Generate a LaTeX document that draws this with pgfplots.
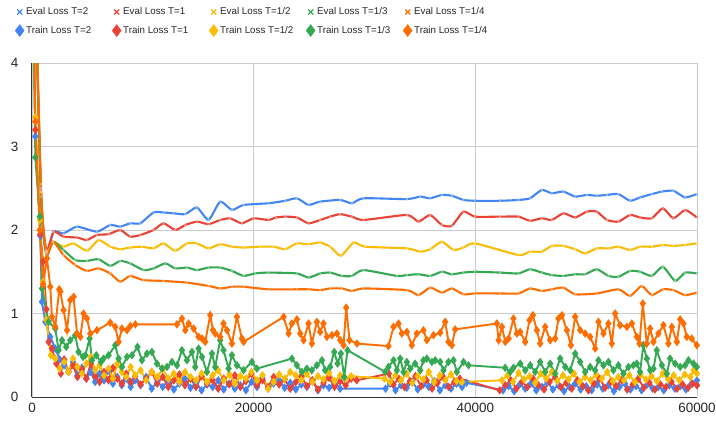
\documentclass[border=0pt]{standalone}
\usepackage{pgfplots}
\pgfplotsset{compat=1.18}
\usepackage{fontspec}
\setmainfont{Liberation Sans}
\definecolor{cblue}{HTML}{4285F4}
\definecolor{cred}{HTML}{EA4335}
\definecolor{cyellow}{HTML}{FBBC04}
\definecolor{cgreen}{HTML}{34A853}
\definecolor{corange}{HTML}{FF6D01}
\pgfplotsset{
 ev/.style={draw=#1, line width=2.1bp, smooth, tension=0.35, mark=x, mark size=1.4bp, mark options={solid, draw=#1!55!white, line width=0.6bp}},
 tr/.style={draw=#1, line width=1.9bp, mark=diamond*, mark size=2.7bp, mark options={solid, fill=#1, draw=#1}},
 le/.style={only marks, mark=x, mark size=3.6bp, mark options={draw=#1, line width=1.2bp}},
 lt/.style={only marks, mark=diamond*, mark size=6bp, mark options={draw=#1, fill=#1}},
}
\begin{document}
\begin{tikzpicture}
\useasboundingbox (-32bp,-26bp) rectangle (684bp,397bp);
\begin{axis}[
  at={(0bp,0bp)}, anchor=south west,
  scale only axis, width=665bp, height=334bp,
  xmin=0, xmax=60000, ymin=0, ymax=4,
  xtick={0,20000,40000,60000}, ytick={0,1,2,3,4},
  scaled x ticks=false,
  /pgf/number format/1000 sep={},
  /pgf/number format/assume math mode=true,
  tick label style={font=\fontsize{13.5}{15}\selectfont, text=black!85},
  yticklabel style={xshift=-10bp},
  xticklabel style={yshift=-3bp},
  major tick length=0pt,
  axis x line*=bottom, axis y line*=left,
  axis line style={draw=black!80, line width=1bp, -},
  grid=major, grid style={draw=black!20, line width=0.8bp},
  legend columns=5,
  legend cell align=left,
  legend style={at={(axis description cs:-0.03,1.178)}, anchor=north west, draw=none, fill=none,
    font=\fontsize{9.8}{11}\selectfont, text=black!85, row sep=6bp,
    /tikz/every even column/.append style={column sep=4bp}},
]
% ---------- Eval ----------
\addplot[ev=cblue, forget plot] coordinates {
(0,6.5)(800,2.5)(1300,1.74)(1950,1.98)(2850,1.96)(4060,2.04)(5860,1.98)(7060,2.06)(7960,2.04)(8860,2.08)(9770,2.08)(10970,2.21)(11870,2.21)(12770,2.20)(13830,2.19)(14880,2.27)(15930,2.12)(16980,2.34)(18040,2.24)(19090,2.30)(21340,2.32)(22850,2.35)(23900,2.38)(24950,2.30)(26000,2.34)(27810,2.36)(28860,2.32)(29910,2.38)(33830,2.37)(35030,2.40)(35930,2.38)(36980,2.42)(37880,2.41)(38930,2.36)(39970,2.35)(42230,2.35)(43890,2.36)(44940,2.38)(46000,2.48)(46900,2.44)(47950,2.46)(49010,2.40)(50060,2.42)(50960,2.41)(51870,2.42)(52910,2.43)(53960,2.35)(54860,2.39)(55920,2.43)(56830,2.46)(57870,2.47)(58930,2.39)(59980,2.43)};
\addplot[ev=cred, forget plot] coordinates {
(0,6.5)(800,2.47)(1300,1.76)(1950,1.98)(2850,1.92)(4060,1.91)(4960,1.88)(5860,1.94)(6910,1.95)(7960,2.00)(8860,1.92)(9770,1.94)(10970,2.00)(11870,2.08)(12930,2.00)(13830,2.06)(14880,2.10)(15930,2.07)(16980,2.12)(17880,2.14)(18930,2.08)(19990,2.14)(21340,2.12)(22000,2.15)(22850,2.16)(23900,2.15)(24950,2.08)(26000,2.12)(26900,2.16)(27810,2.19)(28860,2.16)(29910,2.12)(33830,2.18)(34870,2.10)(35930,2.18)(36980,2.06)(37880,2.05)(38930,2.22)(39970,2.16)(42230,2.16)(43890,2.16)(44940,2.11)(46000,2.14)(46900,2.12)(47950,2.20)(49010,2.15)(50060,2.22)(50960,2.22)(51870,2.12)(52910,2.10)(53960,2.18)(54860,2.15)(55920,2.14)(56920,2.26)(57870,2.14)(58930,2.24)(59980,2.15)};
\addplot[ev=cyellow, forget plot] coordinates {
(0,6.5)(800,2.45)(1300,1.74)(1900,1.86)(2850,1.80)(3750,1.84)(4960,1.75)(6010,1.88)(7060,1.80)(7960,1.77)(8860,1.79)(9920,1.80)(10970,1.78)(11870,1.84)(12930,1.75)(13980,1.84)(14880,1.84)(15930,1.78)(16980,1.83)(18040,1.80)(19090,1.79)(20590,1.80)(21800,1.80)(22850,1.77)(23900,1.84)(24950,1.83)(26000,1.85)(26900,1.80)(27870,1.69)(29010,1.85)(30060,1.80)(33830,1.78)(35030,1.74)(35930,1.77)(36980,1.86)(38030,1.76)(38930,1.79)(39970,1.84)(43890,1.70)(44940,1.74)(46000,1.74)(46900,1.81)(47950,1.81)(49010,1.77)(49910,1.72)(50960,1.78)(52010,1.78)(52910,1.80)(53960,1.76)(54860,1.80)(55920,1.80)(56920,1.82)(57870,1.81)(58930,1.82)(59980,1.84)};
\addplot[ev=cgreen, forget plot] coordinates {
(0,6.5)(800,2.4)(1300,1.70)(1900,1.86)(2850,1.76)(3900,1.64)(4960,1.63)(6010,1.65)(7060,1.57)(7960,1.63)(8860,1.60)(10070,1.52)(10970,1.54)(12030,1.60)(12930,1.54)(13980,1.55)(14880,1.52)(15930,1.55)(16980,1.55)(18040,1.51)(19090,1.45)(20140,1.48)(21340,1.49)(23900,1.48)(24950,1.43)(26000,1.48)(26900,1.49)(27960,1.45)(28860,1.45)(29910,1.52)(32920,1.45)(33830,1.46)(34870,1.47)(35930,1.45)(36980,1.50)(37880,1.47)(38930,1.49)(39970,1.50)(42230,1.49)(43890,1.48)(44940,1.53)(46000,1.49)(46900,1.46)(47950,1.45)(49010,1.47)(49910,1.47)(50960,1.53)(52010,1.45)(52910,1.44)(53960,1.51)(54860,1.50)(55920,1.45)(56920,1.56)(58030,1.39)(58930,1.49)(59980,1.48)};
\addplot[ev=corange, forget plot] coordinates {
(0,6.5)(800,2.55)(1300,1.72)(1900,1.86)(2850,1.70)(3900,1.58)(4960,1.51)(6010,1.54)(7060,1.48)(7960,1.38)(8860,1.45)(10070,1.40)(11870,1.39)(13980,1.37)(15930,1.33)(16980,1.30)(18040,1.32)(19090,1.32)(21340,1.29)(23900,1.29)(24950,1.29)(26000,1.28)(26900,1.30)(27960,1.30)(28860,1.27)(29910,1.30)(33830,1.28)(34870,1.22)(35930,1.31)(36980,1.25)(37880,1.30)(38930,1.23)(39970,1.24)(42230,1.24)(43890,1.24)(44940,1.30)(46000,1.27)(46900,1.29)(47950,1.31)(49010,1.23)(50960,1.24)(52910,1.29)(53960,1.21)(55010,1.33)(55920,1.22)(56920,1.29)(57870,1.28)(58930,1.22)(59980,1.25)};
% ---------- Train ----------
\addplot[tr=cblue, forget plot] coordinates {
(0,6.0)(300,3.12)(750,1.93)(900,1.14)(1200,0.90)(1650,0.72)(2100,0.58)(2500,0.45)(2900,0.38)(3300,0.30)(3700,0.42)(4100,0.26)(4500,0.35)(4900,0.22)(5300,0.30)(5700,0.18)(6100,0.28)(6500,0.20)(6900,0.32)(7300,0.16)(7700,0.24)(8100,0.14)(8500,0.22)(8900,0.12)(9300,0.20)(9800,0.14)(10300,0.24)(10800,0.10)(11300,0.18)(11800,0.12)(12300,0.20)(12800,0.09)(13300,0.16)(13800,0.22)(14300,0.11)(14800,0.17)(15300,0.08)(15800,0.15)(16300,0.12)(16800,0.20)(17300,0.09)(17800,0.16)(18300,0.10)(18800,0.14)(19300,0.08)(19800,0.18)(20300,0.12)(20800,0.22)(21300,0.10)(21800,0.16)(22300,0.20)(22800,0.11)(23300,0.17)(23800,0.09)(24300,0.15)(24800,0.12)(25300,0.19)(25800,0.08)(26300,0.14)(26800,0.11)(27300,0.18)(27800,0.10)(31900,0.10)(32300,0.16)(32800,0.08)(33300,0.14)(33800,0.11)(34300,0.18)(34800,0.09)(35300,0.15)(35800,0.12)(36300,0.19)(36800,0.08)(37300,0.14)(37800,0.10)(38300,0.16)(38800,0.12)(39200,0.17)(42500,0.08)(43000,0.13)(43500,0.07)(44000,0.15)(44500,0.10)(45000,0.16)(45500,0.08)(46000,0.12)(46500,0.18)(47000,0.09)(47500,0.14)(48000,0.07)(48500,0.12)(49000,0.16)(49500,0.09)(50000,0.13)(50500,0.08)(51000,0.15)(51500,0.10)(52000,0.14)(52500,0.07)(53000,0.12)(53500,0.16)(54000,0.09)(54500,0.13)(55000,0.08)(55500,0.15)(56000,0.10)(56500,0.12)(57000,0.08)(57500,0.14)(58000,0.10)(58500,0.13)(59000,0.09)(59500,0.16)(60000,0.20)};
\addplot[tr=cred, forget plot] coordinates {
(0,6.0)(300,3.20)(750,1.95)(1000,1.62)(1300,1.05)(1500,0.66)(1800,0.58)(2200,0.40)(2600,0.28)(2900,0.45)(3300,0.30)(3700,0.38)(4100,0.24)(4500,0.33)(4900,0.22)(5300,0.40)(5700,0.25)(6100,0.18)(6500,0.30)(6900,0.20)(7300,0.35)(7700,0.22)(8100,0.16)(8500,0.28)(8900,0.18)(9300,0.25)(9800,0.15)(10300,0.22)(10800,0.30)(11300,0.16)(11800,0.24)(12300,0.12)(12800,0.20)(13300,0.27)(13800,0.14)(14300,0.22)(14800,0.12)(15300,0.25)(15800,0.16)(16300,0.20)(16800,0.10)(17300,0.22)(17800,0.15)(18300,0.26)(18800,0.12)(19300,0.19)(19800,0.28)(20300,0.14)(20800,0.20)(21300,0.12)(21800,0.24)(22300,0.15)(22800,0.21)(23300,0.10)(23800,0.18)(24300,0.25)(24800,0.13)(25300,0.20)(25800,0.09)(26300,0.17)(26800,0.23)(27300,0.12)(27800,0.19)(28300,0.14)(28800,0.22)(29300,0.20)(32200,0.28)(32600,0.15)(33100,0.22)(33600,0.12)(34100,0.19)(34600,0.25)(35100,0.13)(35600,0.20)(36100,0.10)(36600,0.17)(37100,0.24)(37600,0.12)(38100,0.18)(38600,0.22)(42200,0.08)(42700,0.14)(43200,0.20)(43700,0.10)(44200,0.18)(44700,0.12)(45200,0.22)(45700,0.14)(46200,0.09)(46700,0.18)(47200,0.24)(47700,0.12)(48200,0.17)(48700,0.10)(49200,0.20)(49700,0.13)(50200,0.08)(50700,0.16)(51200,0.22)(51700,0.11)(52200,0.18)(52700,0.13)(53200,0.20)(53700,0.09)(54200,0.15)(54700,0.22)(55200,0.11)(55700,0.17)(56200,0.09)(56700,0.15)(57200,0.12)(57700,0.18)(58200,0.10)(58700,0.15)(59200,0.11)(59600,0.16)(60000,0.14)};
\addplot[tr=cyellow, forget plot] coordinates {
(0,6.0)(300,3.35)(700,2.12)(1000,1.38)(1300,0.92)(1700,0.50)(2100,0.46)(2500,0.34)(2900,0.42)(3300,0.30)(3700,0.46)(4100,0.36)(4500,0.28)(4900,0.40)(5300,0.48)(5700,0.32)(6100,0.38)(6500,0.26)(6900,0.34)(7300,0.22)(7700,0.40)(8100,0.30)(8500,0.24)(8900,0.36)(9300,0.26)(9800,0.32)(10300,0.20)(10800,0.30)(11300,0.24)(11800,0.34)(12300,0.22)(12800,0.28)(13300,0.18)(13800,0.30)(14300,0.24)(14800,0.20)(15300,0.28)(15800,0.18)(16300,0.26)(16800,0.32)(17300,0.20)(17800,0.27)(18300,0.16)(18800,0.25)(19300,0.22)(19800,0.30)(20300,0.20)(20800,0.26)(21300,0.10)(21800,0.18)(22300,0.27)(22800,0.22)(23300,0.30)(23800,0.26)(24300,0.20)(24800,0.28)(25300,0.18)(25800,0.25)(26300,0.21)(26800,0.29)(27300,0.19)(27800,0.26)(28300,0.22)(28800,0.25)(31800,0.22)(32300,0.18)(32800,0.26)(33300,0.20)(33800,0.28)(34300,0.17)(34800,0.25)(35300,0.21)(35800,0.30)(36300,0.18)(36800,0.26)(37300,0.20)(37800,0.27)(38300,0.19)(38800,0.18)(42400,0.20)(42900,0.26)(43400,0.18)(43900,0.29)(44400,0.21)(44900,0.25)(45400,0.17)(45900,0.28)(46400,0.22)(46900,0.30)(47400,0.19)(47900,0.26)(48400,0.21)(48900,0.28)(49400,0.18)(49900,0.24)(50400,0.20)(50900,0.27)(51400,0.22)(51900,0.30)(52400,0.19)(52900,0.24)(53400,0.20)(53900,0.26)(54400,0.18)(54900,0.27)(55400,0.21)(55900,0.25)(56400,0.19)(56900,0.28)(57400,0.21)(57900,0.26)(58400,0.20)(58900,0.27)(59400,0.24)(59700,0.32)(60000,0.28)};
\addplot[tr=cgreen, forget plot] coordinates {
(0,6.0)(300,2.87)(700,2.16)(900,1.30)(1500,0.90)(2100,0.82)(2400,0.56)(2710,0.68)(3090,0.60)(3450,0.68)(3900,0.74)(4200,0.54)(4600,0.48)(4810,0.50)(5200,0.70)(5410,0.44)(5800,0.50)(6220,0.42)(6460,0.46)(6910,0.50)(7510,0.62)(7810,0.46)(8120,0.36)(8570,0.48)(9020,0.50)(9520,0.60)(9920,0.44)(10370,0.52)(10820,0.54)(11280,0.40)(11730,0.34)(12180,0.36)(12630,0.42)(13080,0.38)(13530,0.56)(13980,0.44)(14430,0.54)(14730,0.36)(15030,0.58)(15340,0.48)(15780,0.30)(16240,0.52)(16530,0.36)(16980,0.68)(17280,0.56)(17740,0.34)(18040,0.50)(18490,0.38)(19090,0.32)(19840,0.42)(20290,0.34)(23450,0.46)(23900,0.38)(24350,0.30)(24800,0.34)(25250,0.32)(25700,0.38)(26160,0.44)(26450,0.32)(26900,0.36)(27270,0.54)(27570,0.40)(27870,0.52)(28170,0.24)(28470,0.56)(31870,0.30)(32160,0.36)(32620,0.44)(32920,0.32)(33220,0.46)(33520,0.30)(33820,0.42)(34120,0.34)(34570,0.40)(35030,0.32)(35320,0.44)(35630,0.46)(36080,0.42)(36380,0.44)(36830,0.42)(37130,0.32)(37580,0.42)(38030,0.44)(38330,0.30)(38930,0.42)(39380,0.38)(42690,0.35)(43140,0.30)(43440,0.35)(44050,0.40)(44500,0.32)(44950,0.38)(45400,0.30)(45850,0.42)(46300,0.30)(46750,0.40)(47200,0.28)(47650,0.46)(48110,0.36)(48560,0.32)(49010,0.52)(49460,0.42)(49910,0.30)(50360,0.36)(50810,0.32)(51110,0.44)(51560,0.38)(52010,0.42)(52460,0.32)(52910,0.38)(53360,0.28)(53810,0.36)(54260,0.38)(54570,0.40)(54860,0.30)(55160,0.62)(55470,0.46)(55770,0.32)(56070,0.34)(56370,0.56)(56830,0.38)(57280,0.28)(57570,0.46)(58030,0.40)(58480,0.36)(58930,0.38)(59230,0.44)(59680,0.40)(59980,0.36)};
\addplot[tr=corange, forget plot] coordinates {
(0,6.0)(300,3.30)(700,2.00)(1000,1.35)(1350,1.66)(1650,1.32)(1800,0.96)(2100,0.84)(2460,1.29)(2560,1.26)(2850,1.04)(3160,0.80)(3450,1.16)(3750,1.20)(4060,0.76)(4360,0.72)(4650,1.00)(4960,0.94)(5260,0.76)(5860,0.80)(7060,0.89)(7510,0.84)(7810,0.66)(8120,0.82)(8570,0.80)(8870,0.85)(9320,0.87)(13080,0.87)(13530,0.94)(13830,0.80)(14130,0.88)(14580,0.82)(15030,0.72)(15340,0.70)(15630,0.66)(16080,0.98)(16330,0.80)(16530,0.76)(16980,0.72)(17280,0.88)(17590,0.80)(18040,0.64)(18490,0.96)(18940,0.70)(19090,0.66)(22700,0.96)(23150,0.76)(23450,0.88)(23900,0.93)(24200,0.76)(24500,0.68)(24950,0.88)(25250,0.64)(25700,0.90)(26000,0.78)(26300,0.88)(26610,0.72)(27060,0.74)(27510,0.76)(27810,0.68)(28110,0.62)(28350,1.07)(28650,0.68)(29320,0.64)(32160,0.61)(32620,0.84)(33070,0.88)(33370,0.76)(33820,0.78)(34270,0.62)(34720,0.76)(35320,0.80)(35630,0.68)(36220,0.74)(36830,0.77)(37280,0.90)(37580,0.66)(37880,0.62)(38180,0.81)(41940,0.88)(42100,0.68)(42400,0.84)(42700,0.66)(43000,0.70)(43440,0.94)(43750,0.76)(44050,0.78)(44500,0.66)(44890,0.92)(45190,0.98)(45550,0.80)(45850,0.64)(46300,0.84)(46750,0.68)(47200,0.70)(47500,0.94)(47810,0.98)(48260,0.80)(48620,0.62)(49010,0.96)(49460,0.80)(49910,0.76)(50360,0.72)(50810,0.58)(51110,0.90)(51560,0.76)(52010,0.88)(52310,0.64)(52610,1.00)(53060,0.86)(53670,0.84)(54120,0.88)(54570,0.72)(54810,0.64)(55110,1.12)(55470,0.64)(55770,0.82)(56070,0.66)(56520,0.76)(56970,0.86)(57420,0.64)(57730,0.84)(58180,0.66)(58480,0.93)(58780,0.88)(59080,0.72)(59530,0.70)(59980,0.62)};
% ---------- Legend ----------
\addlegendimage{le=cblue}\addlegendentry{\makebox[80bp][l]{Eval Loss T=2}}
\addlegendimage{le=cred}\addlegendentry{\makebox[80bp][l]{Eval Loss T=1}}
\addlegendimage{le=cyellow}\addlegendentry{\makebox[80bp][l]{Eval Loss T=1/2}}
\addlegendimage{le=cgreen}\addlegendentry{\makebox[80bp][l]{Eval Loss T=1/3}}
\addlegendimage{le=corange}\addlegendentry{\makebox[80bp][l]{Eval Loss T=1/4}}
\addlegendimage{lt=cblue}\addlegendentry{\makebox[80bp][l]{Train Loss T=2}}
\addlegendimage{lt=cred}\addlegendentry{\makebox[80bp][l]{Train Loss T=1}}
\addlegendimage{lt=cyellow}\addlegendentry{\makebox[80bp][l]{Train Loss T=1/2}}
\addlegendimage{lt=cgreen}\addlegendentry{\makebox[80bp][l]{Train Loss T=1/3}}
\addlegendimage{lt=corange}\addlegendentry{\makebox[80bp][l]{Train Loss T=1/4}}
\end{axis}
\end{tikzpicture}
\end{document}
